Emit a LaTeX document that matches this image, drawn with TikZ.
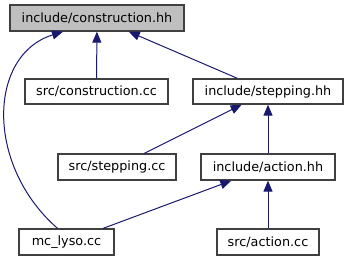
\documentclass[tikz,border=0pt]{standalone}
\usepackage{fontspec}
\setmainfont{DejaVu Sans}
\usepackage{xcolor}
\usepackage{tikz}
\usetikzlibrary{positioning,arrows.meta}
\definecolor{edge}{HTML}{191970}
\definecolor{frame}{HTML}{404040}
\definecolor{hdr}{HTML}{BFBFBF}

\begin{document}
\begin{tikzpicture}[x=1pt,y=-1pt,
  every node/.style={font=\fontsize{12.8}{14}\selectfont,text=black},
  file/.style={draw=frame,line width=1.3pt,fill=white,minimum height=26pt,inner sep=0pt},
  dep/.style={draw=edge,line width=1pt,-{Triangle[length=11pt,width=9pt]}}]
  \useasboundingbox (0,0) rectangle (348,261);
  \node[file,fill=hdr,minimum width=174pt] (constr_hh) at (97,18) {include/construction.hh};
  \node[file,minimum width=143pt,minimum height=25pt] (constr_cc) at (96.5,91.5) {src/construction.cc};
  \node[file,minimum width=150pt,minimum height=25pt] (step_hh) at (268,91.5) {include/stepping.hh};
  \node[file,minimum width=118pt] (step_cc) at (117,167) {src/stepping.cc};
  \node[file,minimum width=134pt] (action_hh) at (268,167) {include/action.hh};
  \node[file,minimum width=95pt] (lyso) at (66.5,242) {mc\_lyso.cc};
  \node[file,minimum width=102pt] (action_cc) at (268,242) {src/action.cc};
  % includes, child -> header
  \draw[dep] (constr_cc) -- (constr_hh);
  \draw[dep] (step_hh) -- (constr_hh);
  \draw[dep] ([xshift=-9pt]lyso.north) .. controls (-15,165) and (-12,55) .. ([xshift=-34pt]constr_hh.south);
  \draw[dep] (step_cc) -- (step_hh);
  \draw[dep] (action_hh) -- (step_hh);
  \draw[dep] (lyso) -- (action_hh);
  \draw[dep] (action_cc) -- (action_hh);
\end{tikzpicture}
\end{document}
